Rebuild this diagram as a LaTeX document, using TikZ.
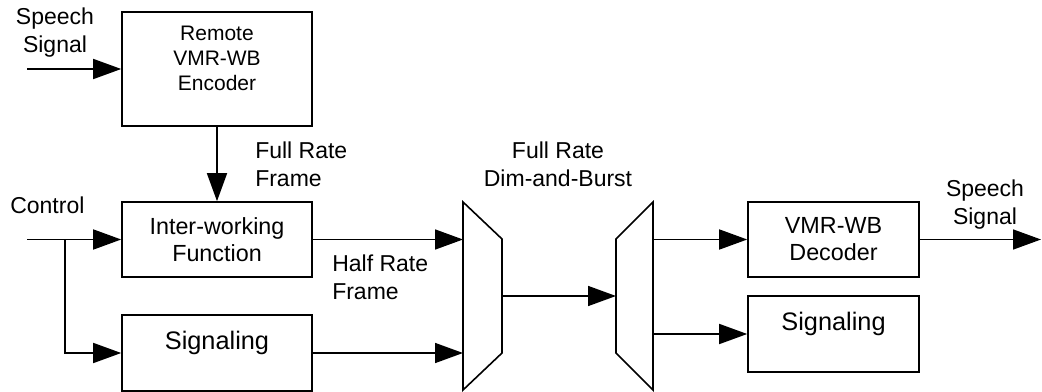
\documentclass[tikz,border=0pt]{standalone}
\usepackage{fontspec}
\setmainfont{Liberation Sans}
\usetikzlibrary{arrows.meta}
\tikzset{
    blk/.style={draw,line width=1.2pt,inner sep=0pt},
    wide/.style={minimum width=142.5pt},
    narrow/.style={minimum width=128.25pt},
    sig/.style={minimum height=57pt,font=\fontsize{19pt}{23pt}\selectfont,text depth=18.5pt},
    two/.style={minimum height=56.25pt,align=center,font=\fontsize{17.5pt}{20.25pt}\selectfont},
    arr/.style={line width=1.2pt,-{Triangle[length=21pt,width=15pt]}},
    lbl/.style={inner sep=0pt,font=\fontsize{17.25pt}{20.5pt}\selectfont},
}
\begin{document}
\begin{tikzpicture}[x=0.75pt,y=-0.75pt]
    \useasboundingbox (0,0) rectangle (1042,392);
    \node[blk,wide,minimum height=85.5pt,font=\fontsize{15.75pt}{18.5pt}\selectfont,text height=0pt,text depth=42pt] at (217,69) (enc) {\begin{tabular}[t]{@{}c@{}}Remote\\VMR-WB\\Encoder\end{tabular}};
    \node[blk,wide,two] at (217,239.5) (iwf) {Inter-working\\Function};
    \node[blk,wide,sig] at (217,353) (sigL) {Signaling};
    \node[blk,narrow,two] at (833.5,239.5) (dec) {VMR-WB\\Decoder};
    \node[blk,narrow,sig] at (833.5,334) (sigR) {Signaling};
    \node[lbl,align=center,anchor=north] at (55,8) (speechin) {Speech\\Signal};
    \node[lbl,anchor=north west] at (10,197) (control) {Control};
    \node[lbl,align=left,anchor=north west] at (255,142) (fullrate) {Full Rate\\Frame};
    \node[lbl,align=left,anchor=north west] at (332,255) (halfrate) {Half Rate\\Frame};
    \node[lbl,align=center,anchor=north] at (558,142) (dimburst) {Full Rate\\Dim-and-Burst};
    \node[lbl,align=center,anchor=north] at (985,180) (speechout) {Speech\\Signal};
    \coordinate (m1a) at (463,202);
    \coordinate (m1b) at (502,239);
    \coordinate (m1c) at (502,353);
    \coordinate (m1d) at (463,390);
    \coordinate (m1out) at (502,296);
    \coordinate (m2a) at (653,202);
    \coordinate (m2b) at (616,239);
    \coordinate (m2c) at (616,353);
    \coordinate (m2d) at (653,390);
    \coordinate (m2in) at (616,296);
    \coordinate (spin) at (27,69);
    \coordinate (ctrl) at (27,239.5);
    \coordinate (split) at (65,239.5);
    \coordinate (spout) at (1041,239.5);
    \draw[line width=1.2pt] (m1a) -- (m1b) -- (m1c) -- (m1d) -- cycle;
    \draw[line width=1.2pt] (m2a) -- (m2b) -- (m2c) -- (m2d) -- cycle;
    \draw[arr] (spin) -- (enc.west);
    \draw[arr] (enc.south) -- (iwf.north);
    \draw[arr] (ctrl) -- (iwf.west);
    \draw[arr] (split) |- (sigL.west);
    \draw[arr] (iwf.east) -- (iwf.east -| m1a);
    \draw[arr] (sigL.east) -- (sigL.east -| m1a);
    \draw[arr] (m1out) -- (m2in);
    \draw[arr] (dec.west -| m2a) -- (dec.west);
    \draw[arr] (sigR.west -| m2a) -- (sigR.west);
    \draw[arr] (dec.east) -- (spout);
\end{tikzpicture}
\end{document}
